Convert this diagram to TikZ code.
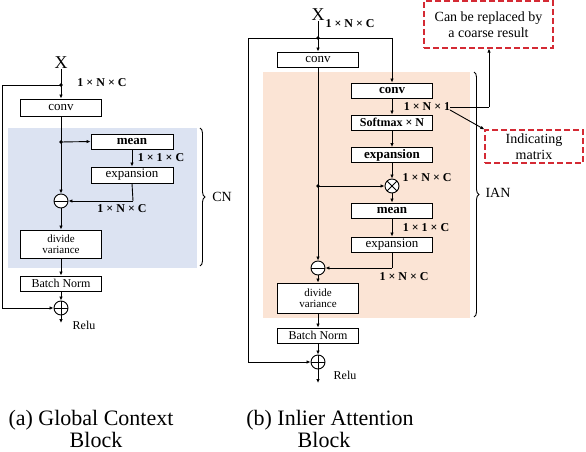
\documentclass[tikz,border=0pt]{standalone}
\usepackage{fontspec}
\setmainfont{Liberation Serif}
\usetikzlibrary{arrows.meta,decorations.pathreplacing}
\definecolor{bgblue}{HTML}{DCE3F2}
\definecolor{bgorange}{HTML}{FBE4D5}
\definecolor{dashred}{HTML}{D42A34}
\tikzset{
  blk/.style={draw, line width=0.9pt, fill=white, minimum width=81pt, minimum height=15pt, inner sep=0pt, font=\fontsize{13}{14}\selectfont},
  bblk/.style={blk, font=\fontsize{13}{14}\selectfont\bfseries},
  dim/.style={font=\fontsize{12}{13}\selectfont\bfseries, inner sep=0pt},
  lbl/.style={font=\fontsize{13}{14}\selectfont, inner sep=0pt},
  opc/.style={circle, draw, line width=0.9pt, fill=white, minimum size=14pt, inner sep=0pt},
  minusop/.style={opc, path picture={\draw[line width=0.9pt] (path picture bounding box.west) -- (path picture bounding box.east);}},
  plusop/.style={opc, path picture={\draw[line width=0.9pt] (path picture bounding box.west) -- (path picture bounding box.east) (path picture bounding box.north) -- (path picture bounding box.south);}},
  timesop/.style={opc, path picture={\draw[line width=0.9pt] ([shift={(-5pt,-5pt)}]path picture bounding box.center) -- ([shift={(5pt,5pt)}]path picture bounding box.center) ([shift={(-5pt,5pt)}]path picture bounding box.center) -- ([shift={(5pt,-5pt)}]path picture bounding box.center);}},
  ln/.style={line width=0.9pt},
  ar/.style={line width=0.9pt, -{Latex[length=4pt,width=3.5pt]}},
  dotn/.style={circle, fill=black, inner sep=0pt, minimum size=3.6pt},
  redbox/.style={draw=dashred, line width=1.2pt, dash pattern=on 6pt off 3pt, inner sep=0pt, align=center, font=\fontsize{14}{16}\selectfont},
  captxt/.style={font=\fontsize{22}{24}\selectfont, inner sep=0pt, anchor=base},
  brc/.style={decorate, decoration={brace, amplitude=5pt}, line width=0.9pt}
}
\begin{document}
\begin{tikzpicture}[x=1pt, y=-1pt]
\useasboundingbox (0,0) rectangle (586,452);
% ---------------- (a) ----------------
\fill[bgblue] (8,128) rectangle (197,268);
\draw[brc] (200,128) -- (200,266);
\node[lbl, font=\fontsize{14}{15}\selectfont] (cn) at (222,197) {CN};
\node[inner sep=0pt, font=\fontsize{18}{18}\selectfont] (xa) at (61,63) {X};
\node[dotn] (da) at (61,85) {};
\node[dim] at (102,83) {1 × N × C};
\node[blk] (conva) at (61,107.5) [minimum height=17pt] {conv};
\node[dotn] (db) at (61,142) {};
\node[bblk, minimum width=82pt] (meana) at (132,141.5) {mean};
\node[blk, minimum width=82pt, minimum height=16pt] (expa) at (132,175) {expansion};
\node[dim] at (161,158) {1 × 1 × C};
\node[minusop] (mina) at (61,201) {};
\node[dim] at (122,209) {1 × N × C};
\node[blk, minimum height=28pt, align=center, font=\fontsize{11}{11.5}\selectfont] (diva) at (61,244) {divide\\variance};
\node[blk, font=\fontsize{12}{13}\selectfont] (bna) at (61,283.5) {Batch Norm};
\node[plusop] (plusa) at (61,308) {};
\coordinate (enda) at (61,323);
\node[lbl, font=\fontsize{12}{13}\selectfont] at (84,325) {Relu};
\coordinate (la1) at (2,85);
\coordinate (la2) at (2,308);
\coordinate (ea) at (133,201);

\draw[ar] (xa.south) -- (conva.north);
\draw[ln] (da.center) -- (la1) -- (la2);
\draw[ar] (la2) -- (plusa.west);
\draw[ar] (conva.south) -- (mina.north);
\draw[ar] (db.center) -- (meana.west);
\draw[ar] (meana.south -| expa.north) -- (expa.north);
\draw[ln] (expa.south) -- (ea);
\draw[ar] (ea) -- (mina.east);
\draw[ar] (mina.south) -- (diva.north);
\draw[ar] (diva.south) -- (bna.north);
\draw[ar] (bna.south) -- (plusa.north);
\draw[ar] (plusa.south) -- (enda);

% ---------------- (b) ----------------
\fill[bgorange] (263,72) rectangle (470,318);
\draw[brc] (474,72) -- (474,317);
\node[lbl, font=\fontsize{14}{15}\selectfont] (ian) at (498,193) {IAN};
\node[inner sep=0pt, font=\fontsize{18}{18}\selectfont] (xb) at (318,15) {X};
\node[dim] at (350,24) {1 × N × C};
\node[dotn] (dc) at (318,38) {};
\coordinate (lb1) at (248,38);
\coordinate (lb2) at (248,362);
\coordinate (rb1) at (392,38);
\node[blk] (convb) at (318,59.5) {conv};
\node[bblk] (convc) at (392,90.5) {conv};
\node[dim] (d1) at (427,107) {1 × N × 1};
\node[bblk, font=\fontsize{12}{13}\selectfont\bfseries] (soft) at (392,122.5) {Softmax × N};
\node[bblk] (expb) at (392,155) {expansion};
\node[timesop] (tim) at (392,186) {};
\node[dim] at (427,178) {1 × N × C};
\node[dotn] (dd) at (318,186) {};
\node[bblk] (meanb) at (392,210.5) {mean};
\node[dim] at (426,228) {1 × 1 × C};
\node[blk] (expc) at (392,244.5) {expansion};
\coordinate (eb) at (392,268);
\node[minusop] (minb) at (318,268) {};
\node[dim] at (404,277) {1 × N × C};
\node[blk, minimum height=30pt, align=center, font=\fontsize{11}{11.5}\selectfont] (divb) at (318,298) {divide\\variance};
\node[blk, font=\fontsize{12}{13}\selectfont] (bnb) at (318,335.5) {Batch Norm};
\node[plusop] (plusb) at (318,362) {};
\coordinate (endb) at (318,383);
\node[lbl, font=\fontsize{12}{13}\selectfont] at (345,375) {Relu};

\node[redbox, minimum width=129pt, minimum height=47pt] (coarse) at (488.5,24.5) {Can be replaced by\\a coarse result};
\node[redbox, minimum width=98pt, minimum height=33pt] (ind) at (534,146.5) {Indicating\\matrix};
\coordinate (t1) at (450,107);
\coordinate (t2) at (489,107);
\coordinate (t3) at (450,110);

\draw[ar] (xb.south) -- (convb.north);
\draw[ln] (dc.center) -- (lb1) -- (lb2);
\draw[ar] (lb2) -- (plusb.west);
\draw[ln] (dc.center) -- (rb1);
\draw[ar] (rb1) -- (convc.north);
\draw[ar] (convb.south) -- (minb.north);
\draw[ar] (convc.south) -- (soft.north);
\draw[ar] (soft.south) -- (expb.north);
\draw[ar] (expb.south) -- (tim.north);
\draw[ar] (dd.center) -- (tim.west);
\draw[ar] (tim.south) -- (meanb.north);
\draw[ar] (meanb.south) -- (expc.north);
\draw[ln] (expc.south) -- (eb);
\draw[ar] (eb) -- (minb.east);
\draw[ar] (minb.south) -- (divb.north);
\draw[ar] (divb.south) -- (bnb.north);
\draw[ar] (bnb.south) -- (plusb.north);
\draw[ar] (plusb.south) -- (endb);
\draw[ln] (t1) -- (t2);
\draw[ar] (t2) -- (t2 |- coarse.south);
\draw[ar] (t3) -- (ind.north west);

% captions
\node[captxt] (capa) at (91,425) {(a) Global Context};
\node[captxt] (capa2) at (96,447) {Block};
\node[captxt] (capb) at (330,425) {(b) Inlier Attention};
\node[captxt] (capb2) at (324,447) {Block};
\end{tikzpicture}
\end{document}
